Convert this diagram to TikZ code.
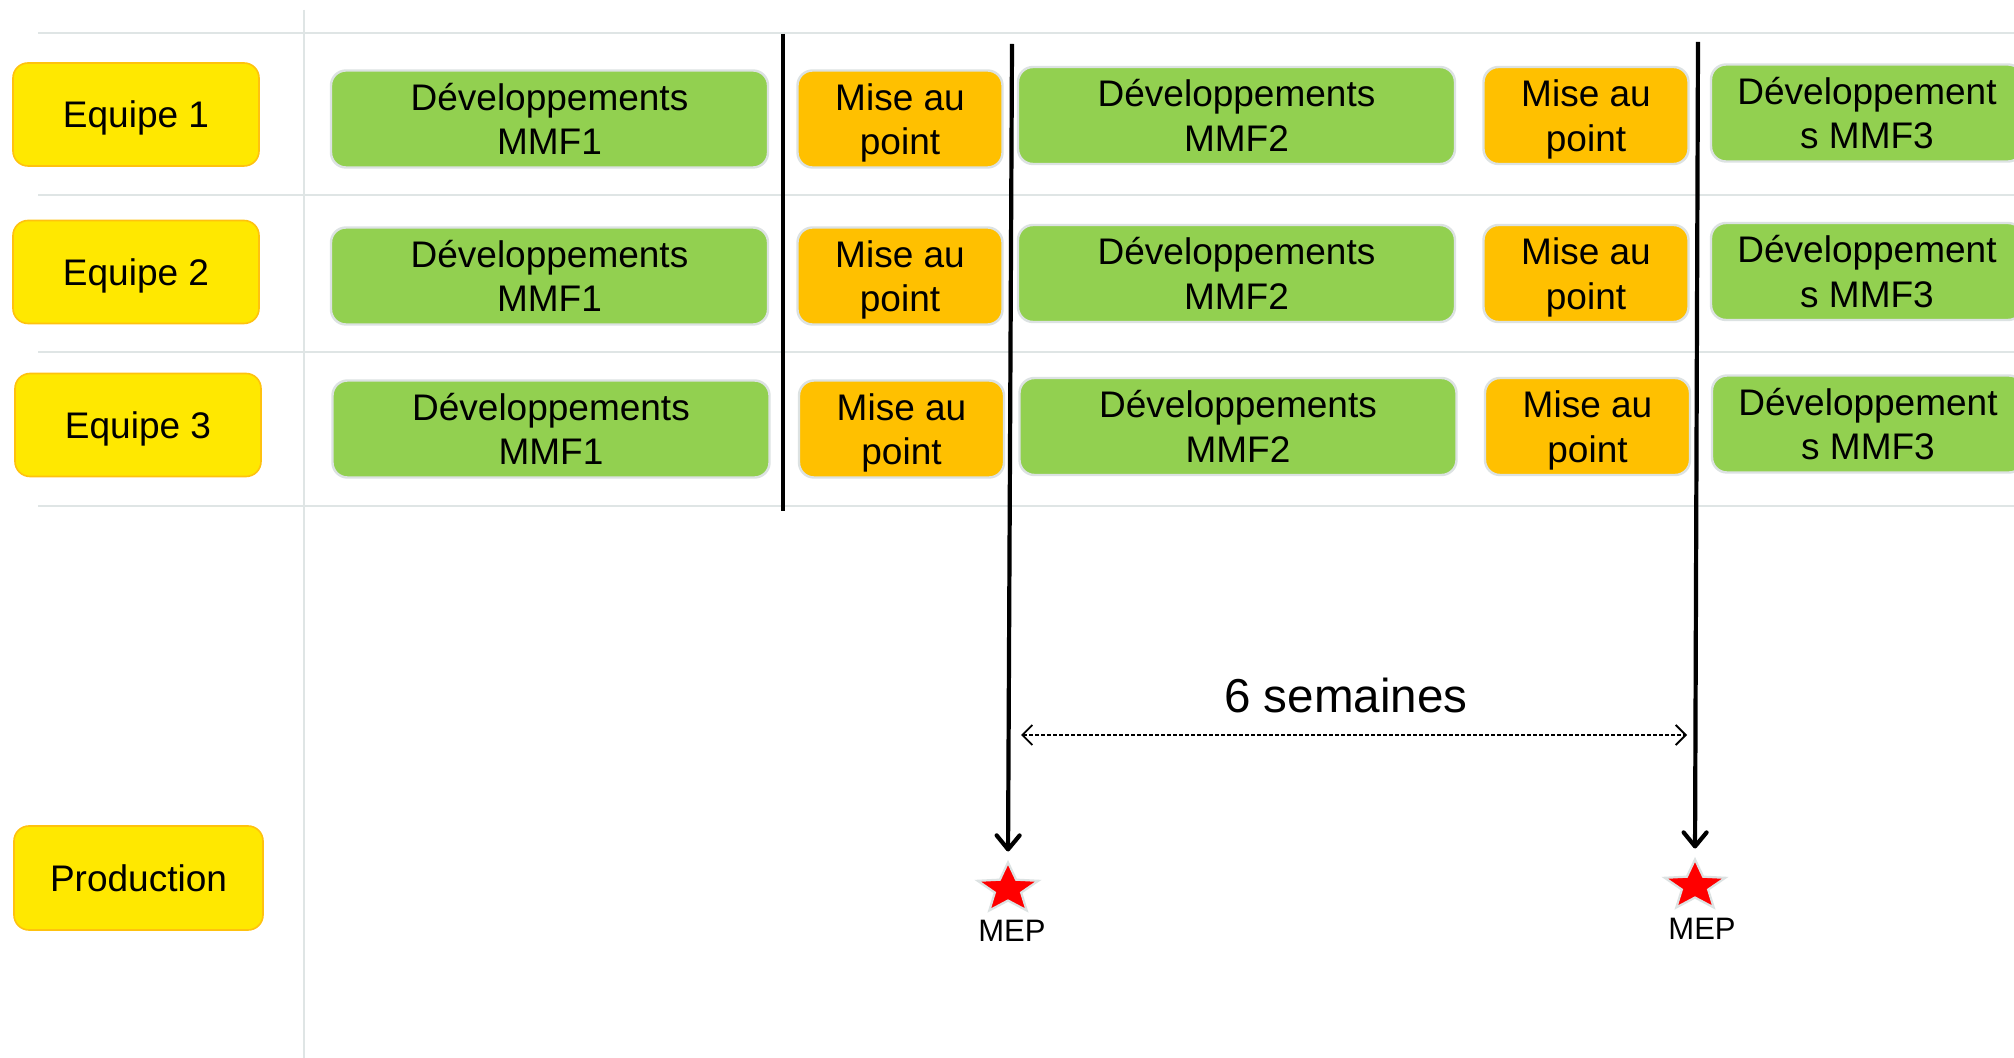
\documentclass[tikz,border=0pt]{standalone}
\usepackage{fontspec}
\setmainfont{Liberation Sans}
\usetikzlibrary{arrows.meta,shapes.geometric}
\definecolor{yel}{HTML}{FFE800}
\definecolor{yelb}{HTML}{FFC20E}
\definecolor{grn}{HTML}{92D050}
\definecolor{org}{HTML}{FFC000}
\definecolor{lgray}{HTML}{DCE2E2}
\definecolor{grid}{HTML}{DFE5E5}
\tikzset{
  box/.style={rectangle, rounded corners=7.5pt, inner sep=0pt, align=center,
    font=\fontsize{18.5}{22.3}\selectfont, minimum height=48.5pt, line width=1.2pt},
  teambox/.style={box, fill=yel, draw=yelb, line width=0.8pt, minimum width=123pt, minimum height=51.5pt},
  devbox/.style={box, fill=grn, draw=lgray, minimum width=218.5pt},
  misebox/.style={box, fill=org, draw=lgray, minimum width=102.5pt, text depth=0pt},
  dev3box/.style={box, fill=grn, draw=lgray, minimum width=156pt},
  gridline/.style={draw=grid, line width=1pt},
  milestone/.style={draw=black, line width=2pt},
  mepline/.style={draw=black, line width=2.1pt, -{Straight Barb[length=7pt,width=11.5pt,line cap=round,line join=round]}, shorten >=4pt},
  durarrow/.style={draw=black, line width=0.9pt, dash pattern=on 2pt off 1pt,
    {Straight Barb[length=5pt,width=10pt]}-{Straight Barb[length=5pt,width=10pt]}},
  mepstar/.style={star, star points=5, star point ratio=2.3, minimum size=26.5pt, inner sep=0pt,
    fill=red, draw=lgray, line width=1.1pt, xscale=1.2},
  meplabel/.style={font=\fontsize{15.5}{18}\selectfont, inner sep=0pt},
}
\begin{document}
\begin{tikzpicture}[x=0.5pt,y=-0.5pt]
\clip (0,0) rectangle (2014,1058);
\fill[white] (0,0) rectangle (2014,1058);
% grid
\coordinate (gv1) at (304,10);
\coordinate (gv2) at (304,1058);
\draw[gridline] (gv1) -- (gv2);
\foreach \yy/\nm in {33/a,195/b,352/c,506/d}{
  \coordinate (gh\nm1) at (38,\yy);
  \coordinate (gh\nm2) at (2014,\yy);
  \draw[gridline] (gh\nm1) -- (gh\nm2);
}
% team boxes
\node[teambox, text depth=0pt] (eq1) at (136,114.5) {Equipe 1};
\node[teambox, text depth=0pt] (eq2) at (136,272) {Equipe 2};
\node[teambox, text depth=0pt] (eq3) at (138,425) {Equipe 3};
\node[teambox, minimum width=124.5pt, minimum height=52pt] (prod) at (138.5,878) {Production};
% row 1
\node[devbox] (r1a) at (549.5,119) {Développements\\MMF1};
\node[misebox] (r1b) at (900,119) {Mise au\\point};
\node[devbox] (r1c) at (1236.5,115.5) {Développements\\MMF2};
\node[misebox] (r1d) at (1586,115.5) {Mise au\\point};
\node[dev3box] (r1e) at (1867,113) {Développement\\s MMF3};
% row 2
\node[devbox] (r2a) at (549.5,276) {Développements\\MMF1};
\node[misebox] (r2b) at (900,276) {Mise au\\point};
\node[devbox] (r2c) at (1236.5,273.5) {Développements\\MMF2};
\node[misebox] (r2d) at (1586,273.5) {Mise au\\point};
\node[dev3box] (r2e) at (1867,271.5) {Développement\\s MMF3};
% row 3
\node[devbox] (r3a) at (551,429) {Développements\\MMF1};
\node[misebox] (r3b) at (901.5,429) {Mise au\\point};
\node[devbox] (r3c) at (1238,426.5) {Développements\\MMF2};
\node[misebox] (r3d) at (1587.5,426.5) {Mise au\\point};
\node[dev3box] (r3e) at (1868,424) {Développement\\s MMF3};
% milestones
\coordinate (m1t) at (783,34);
\coordinate (m1b) at (783,511);
\draw[milestone] (m1t) -- (m1b);
\node[mepstar] (s1) at (1008,889) {};
\node[mepstar] (s2) at (1695,886) {};
\node[meplabel] (l1) at (1012,931) {MEP};
\node[meplabel] (l2) at (1702,929) {MEP};
\coordinate (m2t) at (1012,44);
\coordinate (m3t) at (1698,42);
\draw[mepline] (m2t) -- (s1.north);
\draw[mepline] (m3t) -- (s2.north);
% duration
\coordinate (d1) at (1021,735);
\coordinate (d2) at (1687,735);
\draw[durarrow] (d1) -- (d2);
\node[anchor=base, inner sep=0pt, font=\fontsize{23.8}{28}\selectfont] (dur) at (1346,712) {6 semaines};
\end{tikzpicture}
\end{document}
